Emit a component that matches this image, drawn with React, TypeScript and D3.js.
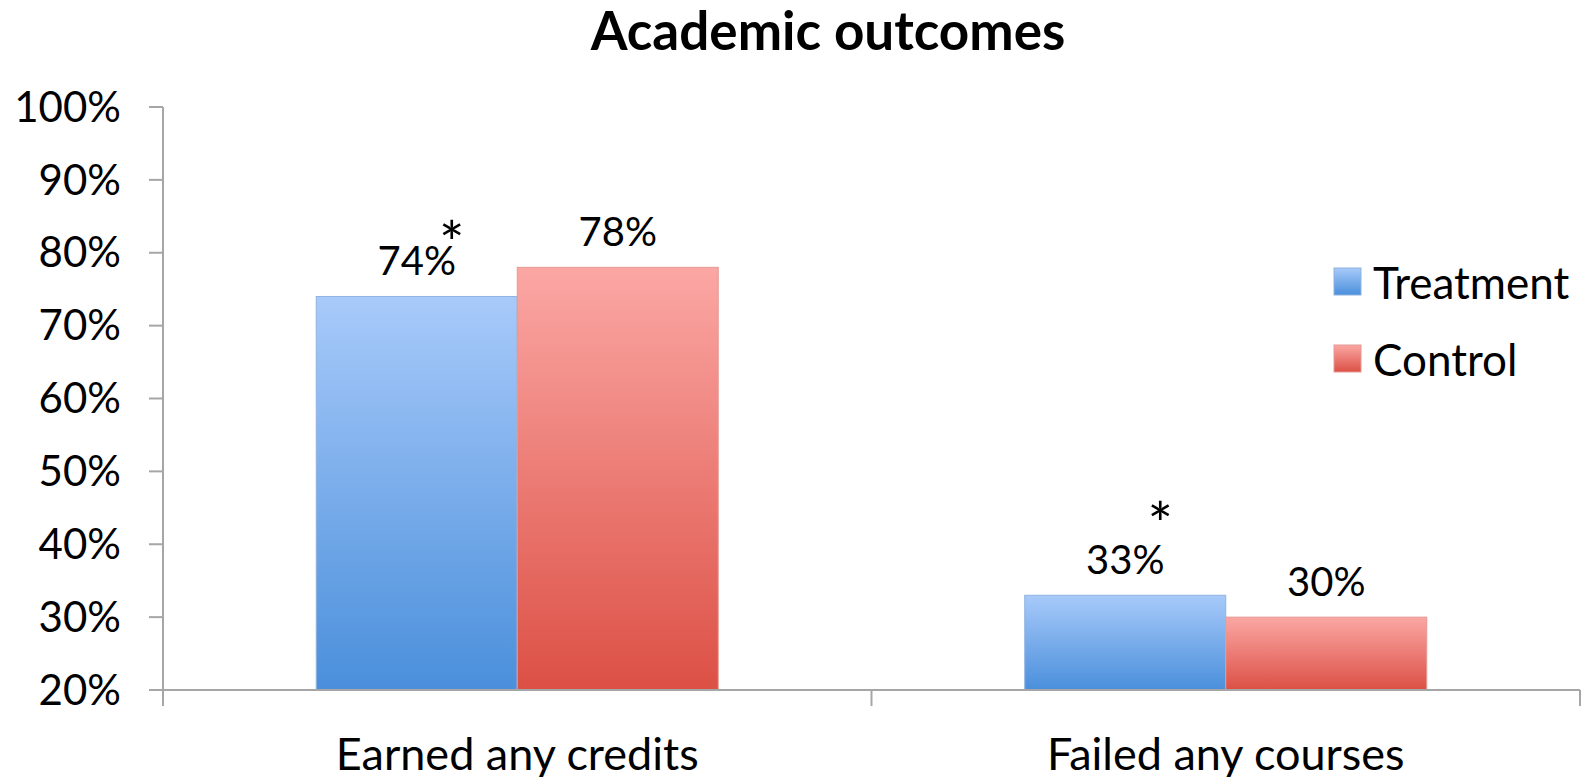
import React from "react";
import * as d3 from "d3";

const categories = ["Earned any credits", "Failed any courses"];
const seriesNames = ["Treatment", "Control"];
const treatmentValues = [0.74, 0.33];
const controlValues = [0.78, 0.3];
const treatmentSignificant = [true, true];
const yTickValues = [0.2, 0.3, 0.4, 0.5, 0.6, 0.7, 0.8, 0.9, 1.0];
const titleText = "Academic outcomes";

const W = 1587;
const H = 777;
const FONT = "Lato, 'Open Sans', sans-serif";
const STAR_DY = [-31, -49];

export default function App() {
  const left = 163;
  const right = 1580;
  const top = 107;
  const bottom = 690;

  const y = d3.scaleLinear().domain([0.2, 1.0]).range([bottom, top]);
  const x0 = d3.scaleBand<string>().domain(categories).range([left, right]).paddingInner(0).paddingOuter(0);
  const bw = x0.bandwidth();
  const x1 = d3.scaleBand<string>().domain(seriesNames).range([bw * 0.2163, bw * 0.7837]).padding(0);

  const seriesValues = [treatmentValues, controlValues];
  const gradIds = ["gradBlue", "gradRed"];
  const strokes = ["#8fb2e0", "#e59a95"];

  const boundaries = [left, ...categories.map((c) => (x0(c) as number) + bw)];

  return (
    <div style={{ position: "absolute", left: 0, top: 0 }}>
      <svg width={W} height={H} style={{ display: "block", background: "#fff" }}>
        <defs>
          <linearGradient id="gradBlue" x1="0" y1="0" x2="0" y2="1">
            <stop offset="0%" stopColor="#a8cafa" />
            <stop offset="100%" stopColor="#4a8fdb" />
          </linearGradient>
          <linearGradient id="gradRed" x1="0" y1="0" x2="0" y2="1">
            <stop offset="0%" stopColor="#fba7a4" />
            <stop offset="100%" stopColor="#dc5045" />
          </linearGradient>
        </defs>

        <text x={828} y={50} textAnchor="middle" fontFamily={FONT} fontWeight={700} fontSize={53} fill="#000">
          {titleText}
        </text>

        {/* bars */}
        {categories.map((c, ci) =>
          seriesNames.map((s, si) => {
            const v = seriesValues[si][ci];
            const bx = (x0(c) as number) + (x1(s) as number);
            const by = y(v);
            return (
              <rect
                key={c + s}
                x={bx}
                y={by}
                width={x1.bandwidth()}
                height={bottom - by}
                fill={`url(#${gradIds[si]})`}
                stroke={strokes[si]}
                strokeWidth={1}
              />
            );
          })
        )}

        {/* value labels */}
        {categories.map((c, ci) =>
          seriesNames.map((s, si) => {
            const v = seriesValues[si][ci];
            const cx = (x0(c) as number) + (x1(s) as number) + x1.bandwidth() / 2;
            return (
              <text
                key={"l" + c + s}
                x={cx}
                y={y(v) - 21}
                textAnchor="middle"
                fontFamily={FONT}
                fontSize={40}
                fill="#000"
              >
                {d3.format(".0%")(v)}
              </text>
            );
          })
        )}

        {/* significance stars */}
        {categories.map((c, ci) =>
          treatmentSignificant[ci] ? (
            <text
              key={"star" + c}
              x={(x0(c) as number) + (x1("Treatment") as number) + x1.bandwidth() / 2 + 35}
              y={y(treatmentValues[ci]) + STAR_DY[ci]}
              textAnchor="middle"
              fontFamily={FONT}
              fontSize={60}
              fill="#000"
            >
              *
            </text>
          ) : null
        )}

        {/* y axis */}
        <line x1={left} x2={left} y1={top} y2={bottom + 16} stroke="#a6a6a6" strokeWidth={2} />
        {yTickValues.map((t) => (
          <g key={t}>
            <line x1={left - 14} x2={left} y1={y(t)} y2={y(t)} stroke="#a6a6a6" strokeWidth={2} />
            <text
              x={121}
              y={y(t)}
              dy="0.35em"
              textAnchor="end"
              fontFamily={FONT}
              fontSize={42}
              fill="#000"
            >
              {d3.format(".0%")(t)}
            </text>
          </g>
        ))}

        {/* x axis */}
        <line x1={left} x2={right} y1={bottom} y2={bottom} stroke="#a6a6a6" strokeWidth={2} />
        {boundaries.map((b, i) => (
          <line key={"xt" + i} x1={b} x2={b} y1={bottom} y2={bottom + 16} stroke="#a6a6a6" strokeWidth={2} />
        ))}
        {categories.map((c) => (
          <text
            key={"cat" + c}
            x={(x0(c) as number) + bw / 2}
            y={770}
            textAnchor="middle"
            fontFamily={FONT}
            fontSize={45}
            fill="#000"
          >
            {c}
          </text>
        ))}

        {/* legend */}
        {seriesNames.map((s, si) => (
          <g key={"lg" + s} transform={`translate(1334, ${268 + si * 77})`}>
            <rect x={0} y={0} width={27} height={27} fill={`url(#${gradIds[si]})`} stroke={strokes[si]} strokeWidth={1} />
            <text x={39} y={16} dy="0.35em" fontFamily={FONT} fontSize={44} fill="#000">
              {s}
            </text>
          </g>
        ))}
      </svg>
    </div>
  );
}
